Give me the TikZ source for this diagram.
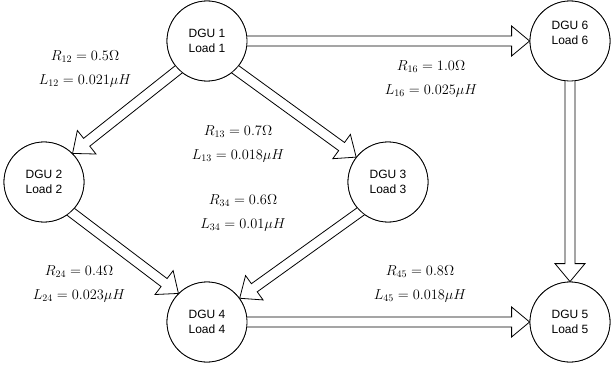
\documentclass[tikz,border=0pt]{standalone}
\usepackage{fontspec}
\setsansfont{Liberation Sans}
\usetikzlibrary{calc}
\tikzset{
  dgu/.style={circle,draw=black,line width=0.8pt,fill=white,minimum size=80pt,
              inner sep=0pt,align=center,font=\sffamily\fontsize{12}{15}\selectfont},
  dgutext/.style={align=center,font=\sffamily\fontsize{12}{15}\selectfont},
  flex/.style={draw=black,line width=0.8pt,fill=white,line join=miter},
  param/.style={align=center,font=\fontsize{14.5}{24}\selectfont},
}
% hollow block arrow between two border points
\newcommand{\flexarrow}[2]{%
  \coordinate (fa-s) at (#1);
  \coordinate (fa-e) at (#2);
  \coordinate (fa-b) at ($(fa-s)!-8pt!(fa-e)$);
  \coordinate (fa-h) at ($(fa-e)!18pt!(fa-s)$);
  \draw[flex] ($(fa-b)!5pt!90:(fa-e)$) -- ($(fa-h)!5pt!90:(fa-e)$)
    -- ($(fa-h)!15pt!90:(fa-e)$) -- (fa-e) -- ($(fa-h)!15pt!-90:(fa-e)$)
    -- ($(fa-h)!5pt!-90:(fa-e)$) -- ($(fa-b)!5pt!-90:(fa-e)$) -- cycle;
}

\begin{document}
\begin{tikzpicture}[x=1pt,y=-1pt]
  \useasboundingbox (0,0) rectangle (611,369);

  % circles first as anchors for the arrows
  \path (207,41) node[dgu] (dgu1) {}
        (44,182) node[dgu] (dgu2) {}
        (388,182) node[dgu] (dgu3) {}
        (207,322) node[dgu] (dgu4) {}
        (570,322) node[dgu] (dgu5) {}
        (570,41) node[dgu] (dgu6) {};

  \flexarrow{dgu1.east}{dgu6.west}
  \flexarrow{dgu1.225}{dgu2.45}
  \flexarrow{dgu1.315}{dgu3.142}
  \flexarrow{dgu2.312}{dgu4.135}
  \flexarrow{dgu3.227}{dgu4.36}
  \flexarrow{dgu4.east}{dgu5.west}
  \flexarrow{dgu6.south}{dgu5.north}

  \node[dgu] at (dgu1) {DGU 1\\Load 1};
  \node[dgu] at (dgu2) {DGU 2\\Load 2};
  \node[dgu] at (dgu3) {DGU 3\\Load 3};
  \node[dgu] at (dgu4) {DGU 4\\Load 4};
  \node[dgu] at (dgu5) {DGU 5\\Load 5};
  \node[dgu] (dgu6c) at (dgu6) {};
  \node[dgutext] at ([yshift=8pt]dgu6.center) {DGU 6\\Load 6};

  \node[param] (p12) at (85,69) {$R_{12}=0.5\Omega$\\$L_{12}=0.021\mu H$};
  \node[param] (p16) at (431,79) {$R_{16}=1.0\Omega$\\$L_{16}=0.025\mu H$};
  \node[param] (p13) at (238,144) {$R_{13}=0.7\Omega$\\$L_{13}=0.018\mu H$};
  \node[param] (p34) at (243,213) {$R_{34}=0.6\Omega$\\$L_{34}=0.01\mu H$};
  \node[param] (p24) at (79,284) {$R_{24}=0.4\Omega$\\$L_{24}=0.023\mu H$};
  \node[param] (p45) at (420,284) {$R_{45}=0.8\Omega$\\$L_{45}=0.018\mu H$};
\end{tikzpicture}
\end{document}
